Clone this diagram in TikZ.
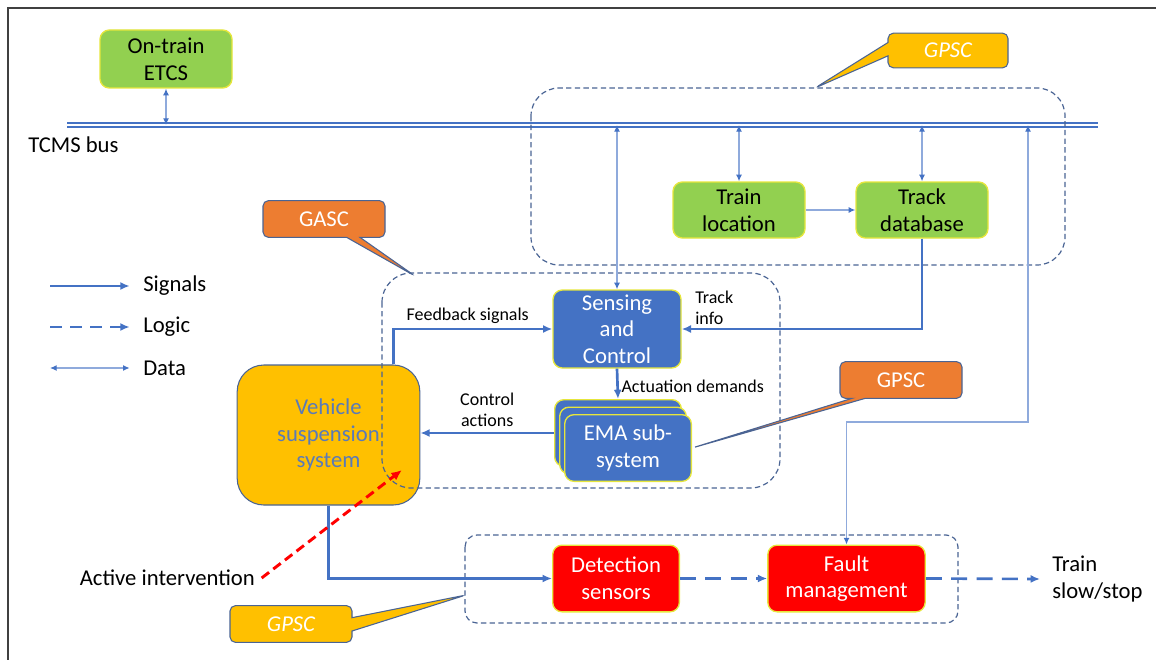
\documentclass[tikz,border=0pt]{standalone}
\usepackage{fontspec}
\setmainfont{Carlito}
\usetikzlibrary{positioning}
\usetikzlibrary{shapes.callouts}
\usetikzlibrary{arrows.meta}
\definecolor{sigblue}{HTML}{4472C4}
\definecolor{datablue}{HTML}{8FAADC}
\definecolor{leafgreen}{HTML}{92D050}
\definecolor{amber}{HTML}{FFC000}
\definecolor{rust}{HTML}{ED7D31}
\definecolor{slate}{HTML}{4A6494}
\definecolor{edgeyellow}{HTML}{E6E63C}
\definecolor{vehtext}{HTML}{5A7AB8}

\begin{document}
\begin{tikzpicture}[x=0.75pt, y=-0.75pt,
    big/.style={font=\fontsize{17}{20}\selectfont},
    small/.style={font=\fontsize{13.5}{15.5}\selectfont, text=black},
    block/.style={draw=edgeyellow, line width=1pt, rounded corners=7pt, align=center, inner sep=0pt, big},
    greenbox/.style={block, fill=leafgreen},
    bluebox/.style={block, fill=sigblue, text=white},
    redbox/.style={block, fill=red, text=white},
    region/.style={draw=slate, line width=0.9pt, dash pattern=on 4pt off 2.5pt},
    signal/.style={-{Latex[length=7pt,width=6pt]}, sigblue, line width=2pt},
    logic/.style={signal, dash pattern=on 12pt off 7pt},
    data/.style={{Latex[length=5pt,width=4.5pt,color=sigblue]}-{Latex[length=5pt,width=4.5pt,color=sigblue]}, datablue, line width=0.9pt},
    tagbox/.style={rectangle callout, draw=slate, line width=0.8pt, rounded corners=4pt, inner sep=0pt, big, text=white, callout pointer width=10pt, minimum width=91.5pt, minimum height=27.5pt}
  ]
  \useasboundingbox (0,0) rectangle (1156,660);
  \draw[line width=1.3pt, black!75] (8,660) -- (8,8) -- (1156,8);

  % bus
  \coordinate (busL) at (67,125);
  \coordinate (busR) at (1098,125);
  \draw[sigblue, double=white, double distance=1.6pt, line width=1.2pt] (busL) -- (busR);
  \node[big, anchor=west, inner sep=0pt] (busTxt) at (28,145) {TCMS bus};

  % blocks
  \node[greenbox, minimum width=99pt, minimum height=43.5pt] (etcs) at (166,59) {On-train\\ETCS};
  \node[greenbox, minimum width=99pt, minimum height=42pt] (trainLoc) at (739,210) {Train\\location};
  \node[greenbox, minimum width=99pt, minimum height=42pt] (trackDb) at (922,210) {Track\\database};
  \node[bluebox, minimum width=96pt, minimum height=58.5pt] (sense) at (617,329) {Sensing\\and\\Control};
  \node[bluebox, minimum width=95pt, minimum height=50pt] (emaB) at (618,433) {};
  \node[bluebox, minimum width=95pt, minimum height=50pt] (emaM) at (623,440.5) {};
  \node[bluebox, minimum width=95pt, minimum height=50pt] (emaF) at (628,448) {EMA sub-\\system};
  \node[draw=slate, line width=0.8pt, fill=amber, rounded corners=20pt, minimum width=137pt, minimum height=105pt,
        align=center, big, text=vehtext] (veh) at (328.5,435) {Vehicle\\suspension\\system};
  \node[redbox, minimum width=95pt, minimum height=50pt] (detect) at (616,578.5) {Detection\\sensors};
  \node[redbox, minimum width=118pt, minimum height=50pt] (fault) at (846.5,578.5) {Fault\\management};
  \node[big, align=left, anchor=west, inner sep=0pt] (slow) at (1052,579) {Train\\slow/stop};
  \node[big, anchor=east, inner sep=0pt] (active) at (255,578) {Active intervention};

  % dashed regions
  \draw[region, rounded corners=21pt] (531,88) rectangle (1065,265);
  \draw[region, rounded corners=22pt] (382,273) rectangle (780,488);
  \draw[region, rounded corners=9pt] (465,535) rectangle (958,623);

  % callouts
  \coordinate (topTip) at (815,88);
  \coordinate (gascTip) at (415,276);
  \coordinate (botTip) at (466,595);
  \node[tagbox, fill=amber, font=\fontsize{17}{20}\selectfont\itshape, minimum width=90pt, minimum height=26pt,
        callout absolute pointer={(topTip)}] (gpscTop) at (948,50.5) {GPSC};
  \node[tagbox, fill=rust, callout absolute pointer={(gascTip)}] (gasc) at (324,219) {GASC};
  \node[tagbox, fill=rust, callout absolute pointer={(emaF.east)}] (gpscMid) at (901,380) {GPSC};
  \node[tagbox, fill=amber, font=\fontsize{17}{20}\selectfont\itshape,
        callout absolute pointer={(botTip)}] (gpscBot) at (291,624) {GPSC};

  % data links
  \draw[data] (etcs.south) -- (etcs.south |- busL);
  \draw[data] (trainLoc.north) -- (trainLoc.north |- busL);
  \draw[data] (trackDb.north) -- (trackDb.north |- busL);
  \draw[data] (sense.north) -- (sense.north |- busL);
  \coordinate (dataBend) at (1028,422);
  \draw[data] (fault.north) |- (dataBend) -- (dataBend |- busL);
  \draw[-{Latex[length=5pt,width=4.5pt,color=sigblue]}, datablue, line width=0.9pt] (trainLoc.east) -- (trackDb.west);

  % signals
  \draw[signal] (trackDb.south) |- (sense.east);
  \node[small, align=left, anchor=south west, inner sep=0pt] (trackInfo) at ([xshift=10pt,yshift=3pt]sense.east) {Track\\info};
  \draw[signal] ([xshift=-20pt]veh.north east) |- (sense.west)
    node[pos=0.75, above, small, inner sep=3pt, xshift=-4pt] (fbTxt) {Feedback signals};
  \draw[signal] (sense.south) -- (emaB.north)
    node[midway, right, small, inner sep=2pt, yshift=-2pt] (actTxt) {Actuation demands};
  \draw[signal] (emaB.west) -- (emaB.west -| veh.east)
    node[midway, above, small, align=center, inner sep=4pt] (ctrlTxt) {Control\\actions};
  \draw[signal] (veh.south) |- (detect.west);

  % logic
  \draw[logic] (detect.east) -- (fault.west);
  \draw[logic] (fault.east) -- ([xshift=-9pt]slow.west);

  % active intervention
  \coordinate (actTip) at (402,470);
  \draw[-{Latex[length=8pt,width=7pt]}, red, line width=2.2pt, dash pattern=on 7pt off 4pt] ([xshift=5pt]active.east) -- (actTip);

  % legend
  \node[big, anchor=west, inner sep=0pt] (sigTxt) at (143,286) {Signals};
  \node[big, anchor=west, inner sep=0pt] (logTxt) at (143,327) {Logic};
  \node[big, anchor=west, inner sep=0pt] (datTxt) at (143,368) {Data};
  \coordinate (sigStart) at (50,286);
  \coordinate (logStart) at (50,327);
  \coordinate (datStart) at (50,368);
  \draw[signal] (sigStart) -- ([xshift=-10pt]sigTxt.west);
  \draw[logic, dash pattern=on 9pt off 6pt] (logStart) -- ([xshift=-10pt]logTxt.west);
  \draw[data] (datStart) -- ([xshift=-10pt]datTxt.west);
\end{tikzpicture}
\end{document}
